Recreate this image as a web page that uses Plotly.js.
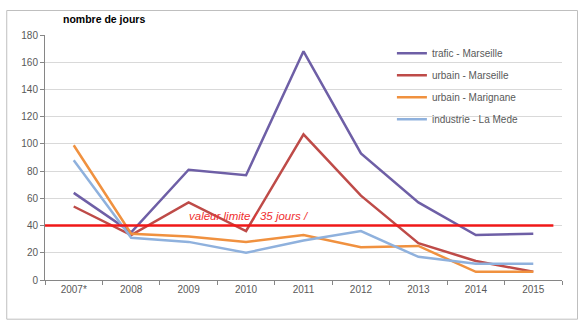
<!DOCTYPE html>
<html><head><meta charset="utf-8">
<script src="https://cdn.plot.ly/plotly-3.0.1.min.js"></script>
<style>html,body{margin:0;padding:0;background:#fff}#c{width:583px;height:322px}</style>
</head><body><div id="c"></div>
<script>
const years = ['2007*','2008','2009','2010','2011','2012','2013','2014','2015'];
const traficMarseille = [64,35,81,77,168,93,57,33,34];
const urbainMarseille = [54,33,57,36,107,62,27,14,6];
const urbainMarignane = [99,34,32,28,33,24,25,6,6];
const industrieLaMede = [88,31,28,20,29,36,17,12,12];
const seriesNames = ['trafic - Marseille','urbain - Marseille','urbain - Marignane','industrie - La Mede'];
const seuil = 40;
const seuilLabel = 'valeur limite / 35 jours /';
const yTitle = 'nombre de jours';

const colors = ['#6E5FA6','#BE4B48','#F0913F','#8FB1DD'];
const data = [traficMarseille, urbainMarseille, urbainMarignane, industrieLaMede].map((v,i)=>({
  x: years, y: v, type:'scatter', mode:'lines', name: seriesNames[i],
  legendgroup: 'g'+i,
  line:{color:colors[i], width:2.5}
}));

const font = {family:'Liberation Sans Narrow, Liberation Sans, Arial, sans-serif', color:'#595959', size:10};
const layout = {
  width:583, height:322,
  margin:{l:45, r:21, t:35, b:42},
  paper_bgcolor:'#fff', plot_bgcolor:'#fff',
  font: font,
  showlegend:true,
  legend:{x:0.671, y:0.985, xanchor:'left', yanchor:'top', bgcolor:'rgba(0,0,0,0)',
          font:{family:font.family, size:10, color:'#595959'}, tracegroupgap:3, itemwidth:30},
  xaxis:{type:'category', range:[-0.5,8.5], showgrid:false, showline:true, linecolor:'#868686', linewidth:1,
         ticks:'outside', ticklen:4, tickcolor:'#868686', tickson:'boundaries',
         tickfont:{size:10, color:'#595959'}, fixedrange:true},
  yaxis:{range:[0,180], dtick:20, showgrid:true, gridcolor:'#D9D9D9', gridwidth:1,
         showline:true, linecolor:'#868686', linewidth:1, ticks:'outside', ticklen:4, tickcolor:'#868686',
         zeroline:false, tickfont:{size:10, color:'#595959'}},
  shapes:[
    {type:'line', xref:'x', yref:'y', x0:-0.5, x1:8.35, y0:seuil, y1:seuil, line:{color:'#F01818', width:2.5}, layer:'above'},
    {type:'rect', xref:'paper', yref:'paper', x0:-0.074, x1:1.03, y0:-0.16, y1:1.1, line:{color:'#BFBFBF', width:1}}
  ],
  annotations:[
    {text:'<b>'+yTitle+'</b>', xref:'paper', yref:'paper', x:0.03, y:1.065, xanchor:'left', yanchor:'middle', showarrow:false,
     font:{family:font.family, size:10.5, color:'#000'}},
    {text:'<i>'+seuilLabel+'</i>', xref:'x', yref:'y', x:3.05, y:seuil+1.5, xanchor:'center', yanchor:'bottom', showarrow:false,
     font:{family:font.family, size:11.5, color:'#F03030'}}
  ]
};
Plotly.newPlot('c', data, layout, {displayModeBar:false, staticPlot:true});
</script></body></html>
